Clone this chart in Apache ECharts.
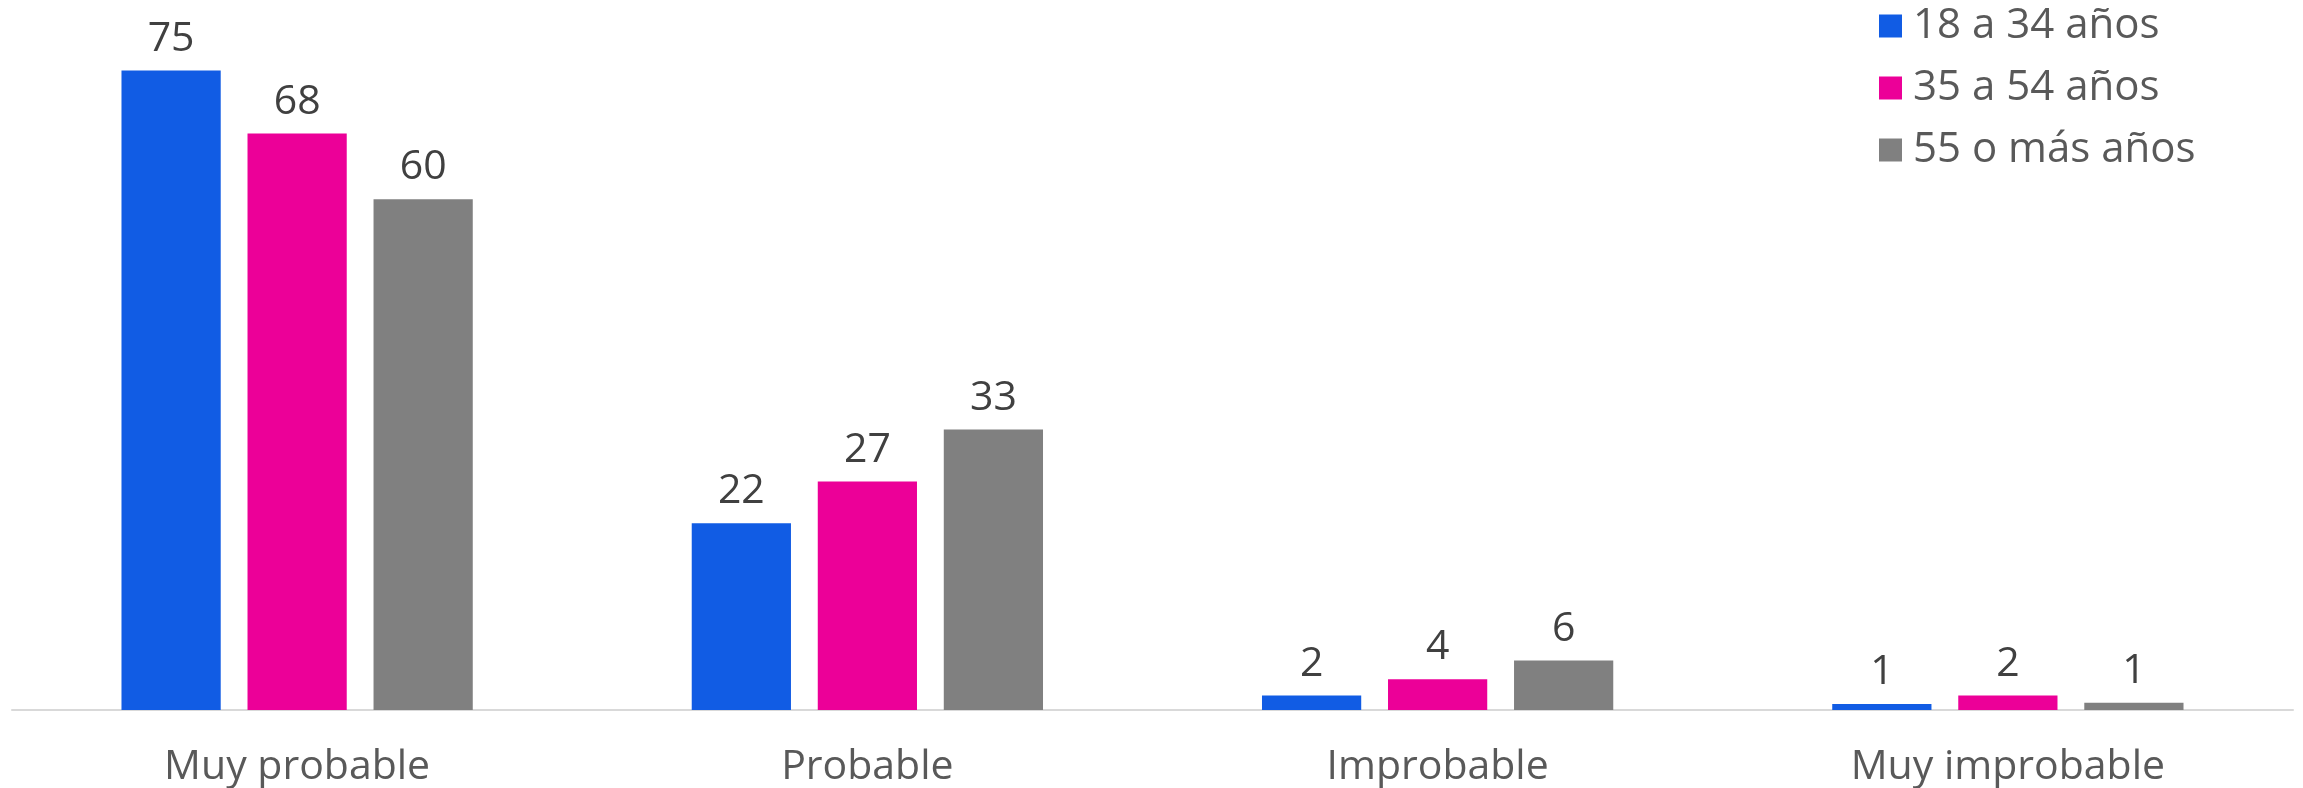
<!DOCTYPE html>
<html>
<head>
<meta charset="utf-8">
<script src="https://cdn.jsdelivr.net/npm/echarts@6/dist/echarts.min.js"></script>
<style>
html,body{margin:0;padding:0;background:#fff;}
#chart{width:2303px;height:788px;}
</style>
</head>
<body>
<div id="chart"></div>
<script>
const categories = ['Muy probable', 'Probable', 'Improbable', 'Muy improbable'];
const seriesNames = ['18 a 34 años', '35 a 54 años', '55 o más años'];
const values18a34 = [75, 21.9, 1.7, 0.7];
const values35a54 = [67.6, 26.8, 3.6, 1.7];
const values55mas = [59.9, 32.9, 5.8, 0.85];
const colors = ['#115CE4', '#EC0098', '#808080'];
const FONT = 'Open Sans';

const chart = echarts.init(document.getElementById('chart'));
const allValues = [values18a34, values35a54, values55mas];
chart.setOption({
  animation: false,
  textStyle: { fontFamily: FONT },
  legend: {
    orient: 'vertical',
    left: 1874,
    top: 0,
    itemWidth: 23,
    itemHeight: 23,
    itemGap: 20,
    icon: 'rect',
    textStyle: { fontSize: 42, color: '#595959', lineHeight: 42, padding: [0, 0, 0, 6], fontFamily: FONT },
    data: seriesNames
  },
  grid: { left: 12, right: 10, top: 70.5, bottom: 76, containLabel: false },
  xAxis: {
    type: 'category',
    data: categories,
    axisLine: { lineStyle: { color: '#d9d9d9', width: 2 } },
    axisTick: { show: false },
    axisLabel: { fontSize: 41, color: '#595959', margin: 37, fontFamily: FONT }
  },
  yAxis: {
    type: 'value', min: 0, max: 75, show: false,
    splitLine: { show: false }
  },
  series: seriesNames.map((name, i) => ({
    name: name,
    type: 'bar',
    data: allValues[i],
    itemStyle: { color: colors[i] },
    barGap: '27%',
    barCategoryGap: '38.4%',
    label: {
      show: true,
      position: 'top',
      distance: 11,
      fontSize: 41,
      color: '#404040',
      fontFamily: FONT,
      formatter: p => Math.round(p.value)
    }
  }))
});
</script>
</body>
</html>
